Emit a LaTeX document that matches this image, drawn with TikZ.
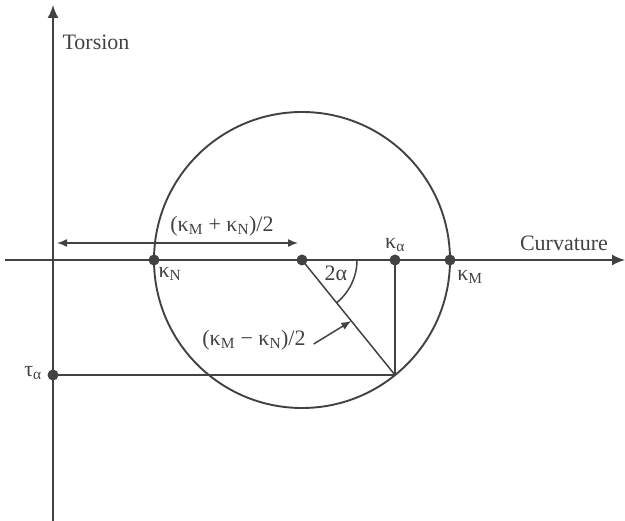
\documentclass[tikz,border=0pt]{standalone}
\usepackage{fontspec}
\setmainfont{Liberation Serif}
\usetikzlibrary{arrows.meta,calc,positioning}
\definecolor{ink}{HTML}{424242}
\newcommand{\kap}[1]{κ\textsubscript{#1}}

\begin{document}
\begin{tikzpicture}[x=1pt,y=-1pt,line width=1.5pt,draw=ink,
  font=\fontsize{22}{26}\selectfont,
  every node/.style={text=ink},
  dot/.style={circle,fill=ink,inner sep=0pt,minimum size=11pt},
  axis/.style={draw=ink,line width=1.7pt,-{Latex[length=13pt,width=11pt]}},
  dim/.style={draw=ink,{Latex[length=10pt,width=8pt]}-{Latex[length=10pt,width=8pt]}}]
\useasboundingbox (0,0) rectangle (625,521);
\coordinate (T0) at (53,521);
\coordinate (T1) at (53,5);
\coordinate (C0) at (5,260);
\coordinate (C1) at (625,260);
\coordinate (P) at (395,375);
\node[dot] (O) at (302,260) {};
\node[dot] (N) at (154,260) {};
\node[dot] (M) at (450,260) {};
\node[dot] (Ka) at (395,260) {};
\node[dot] (Ta) at (53,375) {};
% axes
\draw[axis] (T0) -- (T1);
\draw[axis] (C0) -- (C1);
\node (torsion) at (96,42) {Torsion};
\node (curv) at (564,243) {Curvature};
% circle
\draw[line width=1.9pt] (O.center) circle (148pt);
\draw (O.center) -- (P);
\draw (Ka.center) -- (P);
\draw (Ta.center) -- (P);
\draw (357,260) arc[start angle=0,end angle=-51,radius=55pt];
% labels
\node (lN) at (170,274) {\kap{N}};
\node (lM) at (470,277) {\kap{M}};
\node[above=-2pt of Ka] (la) {κ\textsubscript{α}};
\node (ta) at (33,373) {τ\textsubscript{α}};
\node (twoa) at (336,273) {2α};
% dimensions
\coordinate (D0) at (57,243);
\coordinate (D1) at (298,243);
\draw[dim] (D0) -- (D1);
\node (half1) at (222,226) {(\kap{M} + \kap{N})/2};
\node (half2) at (254,340) {(\kap{M} − \kap{N})/2};
\coordinate (R) at ($(O.center)!0.53!(P)$);
\draw[-{Latex[length=10pt,width=8pt]}] (half2.east) ++(4pt,-4pt) -- (R);
\end{tikzpicture}
\end{document}
